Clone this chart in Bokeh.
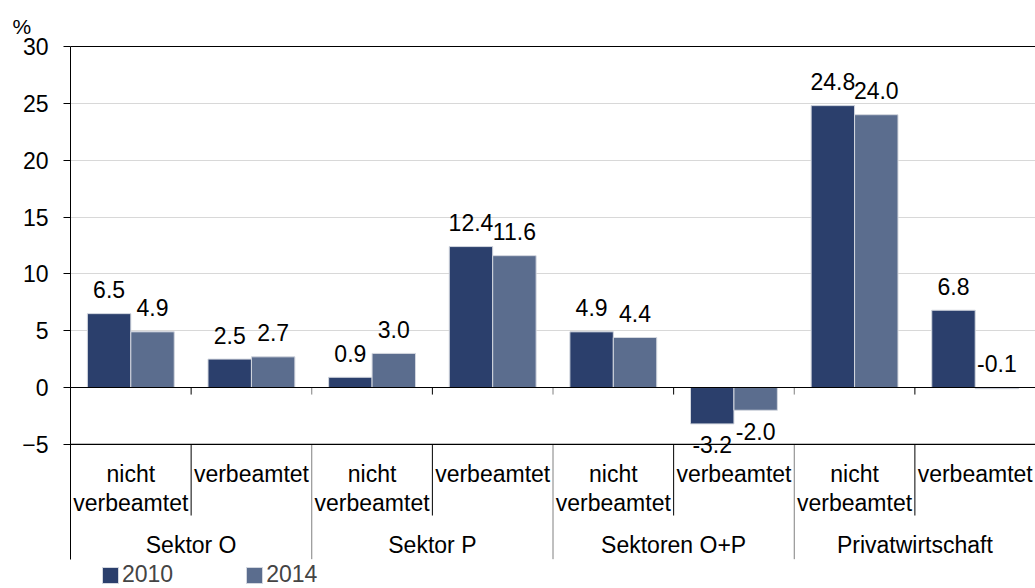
import numpy as np
from bokeh.plotting import figure
from bokeh.models import Range1d, FixedTicker, Span, ColumnDataSource
from bokeh.core.properties import value
from bokeh.embed import file_html
from bokeh.resources import INLINE

# ---- data ----
groups = ["Sektor O", "Sektor P", "Sektoren O+P", "Privatwirtschaft"]
subgroups = ["nicht verbeamtet", "verbeamtet"]
years = ["2010", "2014"]
v2010 = [6.5, 2.5, 0.9, 12.4, 4.9, -3.2, 24.8, 6.8]
v2014 = [4.9, 2.7, 3.0, 11.6, 4.4, -2.0, 24.0, -0.1]
y_ticks = [-5, 0, 5, 10, 15, 20, 25, 30]
y_unit = "%"

colors = ["#2b3f6c", "#5b6d8e"]
FONT = "Liberation Sans"
FS = "23px"

n = len(groups) * len(subgroups)
centers = np.arange(n) + 0.5
bw = 0.36
xs = [centers - bw / 2, centers + bw / 2]

p = figure(width=1035, height=588, x_range=Range1d(0, n), y_range=Range1d(-17.68, 30.352),
           output_backend="svg", toolbar_location=None, x_axis_location=None,
           min_border_left=70, min_border_right=0, min_border_top=42, min_border_bottom=0)
p.outline_line_color = None
p.xgrid.visible = False
p.ygrid.ticker = FixedTicker(ticks=[t for t in y_ticks if 0 < t < max(y_ticks)])
p.ygrid.grid_line_color = "#b0b0b0"
p.ygrid.grid_line_dash = "1 1"

# unit label as title, shifted to the left edge
p.title.text = y_unit
p.title.align = "left"
p.title.offset = -58
p.title.text_font = FONT
p.title.text_font_size = "21px"
p.title.text_font_style = "normal"
p.title.text_color = "black"
p.title.standoff = 10

ax = p.yaxis[0]
ax.ticker = FixedTicker(ticks=y_ticks)
ax.bounds = (-15.1, max(y_ticks))
ax.axis_line_color = "black"
ax.major_tick_line_color = "black"
ax.major_tick_out = 7
ax.major_tick_in = 0
ax.minor_tick_line_color = None
ax.major_label_text_font = FONT
ax.major_label_text_font_size = FS
ax.major_label_text_color = "black"
ax.major_label_standoff = 15

# bars
for k, vals in enumerate([v2010, v2014]):
    src = ColumnDataSource(dict(x=xs[k], top=vals))
    p.vbar(x="x", top="top", bottom=0, width=bw, source=src, fill_color=colors[k],
           line_color="#d3d7df", line_width=1, legend_label=years[k])

# value labels
for k, vals in enumerate([v2010, v2014]):
    vals = np.array(vals)
    pos = vals >= -1
    txt = [f"{v:.1f}" for v in vals]
    p.text(x=xs[k][pos], y=np.maximum(vals[pos], 0), text=[t for t, m in zip(txt, pos) if m],
           text_font=value(FONT), text_font_size=FS, text_align="center",
           text_baseline="alphabetic", y_offset=-24, text_color="black")
    neg = ~pos
    if neg.any():
        p.text(x=xs[k][neg], y=vals[neg], text=[t for t, m in zip(txt, neg) if m],
               text_font=value(FONT), text_font_size=FS, text_align="center",
               text_baseline="alphabetic", y_offset=21, text_color="black")

# horizontal lines
bottom = min(y_ticks)
for yv in [max(y_ticks), 0, bottom]:
    p.add_layout(Span(location=yv, dimension="width", line_color="black", line_width=1.2))

# category table
inner = [i for i in range(1, n) if i % len(subgroups) != 0]
outer = [i for i in range(1, n) if i % len(subgroups) == 0]
p.segment(x0=inner, y0=[0] * len(inner), x1=inner, y1=[-0.62] * len(inner), line_color="black", line_width=1)
p.segment(x0=outer, y0=[0] * len(outer), x1=outer, y1=[-0.62] * len(outer), line_color="#808080", line_width=1)
p.segment(x0=inner, y0=[bottom] * len(inner), x1=inner, y1=[-11.26] * len(inner), line_color="black", line_width=1)
p.segment(x0=outer, y0=[bottom] * len(outer), x1=outer, y1=[-15.1] * len(outer), line_color="#808080", line_width=1)

row_y = [-7.6, -10.15]
lx, ly, lt = [], [], []
for g in range(len(groups)):
    for s, sub in enumerate(subgroups):
        for r, word in enumerate(sub.split(" ")):
            lx.append(centers[g * len(subgroups) + s])
            ly.append(row_y[r])
            lt.append(word)
p.text(x=lx, y=ly, text=lt, text_font=value(FONT), text_font_size=FS, text_align="center",
       text_baseline="middle", text_color="black")
gx = [len(subgroups) * (g + 0.5) for g in range(len(groups))]
p.text(x=gx, y=[-13.85] * len(groups), text=groups, text_font=value(FONT), text_font_size=FS,
       text_align="center", text_baseline="middle", text_color="black")

# legend
lg = p.legend[0]
lg.orientation = "horizontal"
lg.location = (30, 0)
lg.label_text_font = FONT
lg.label_text_font_size = FS
lg.glyph_width = 20
lg.glyph_height = 20
lg.label_standoff = 2
lg.spacing = 71
lg.padding = 0
lg.margin = 0
lg.border_line_color = None
lg.background_fill_alpha = 0

open("out.html", "w").write(file_html(p, INLINE))
